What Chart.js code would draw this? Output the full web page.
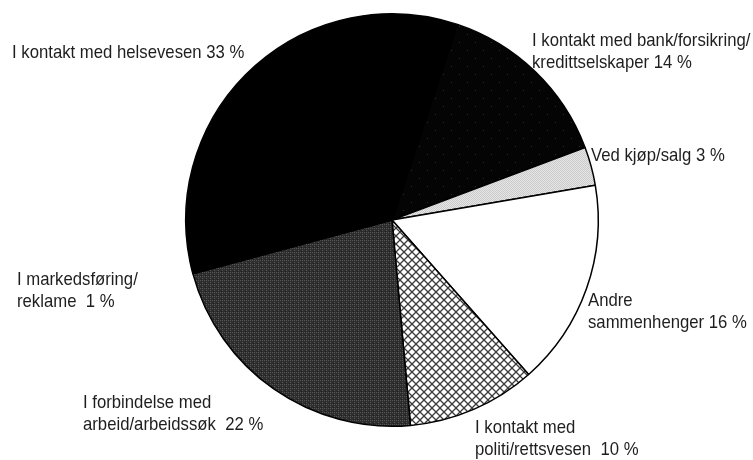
<!DOCTYPE html>
<html>
<head>
<meta charset="utf-8">
<script src="https://cdn.jsdelivr.net/npm/chart.js@4"></script>
<style>
  html, body { margin: 0; padding: 0; background: #fff; }
  #wrap { width: 753px; height: 460px; }
</style>
</head>
<body>
<div id="wrap"><canvas id="myChart" width="753" height="460"></canvas></div>
<script>
// categories (clockwise from the top), lines split with \n
const categories = [
    'I kontakt med bank/forsikring/\nkredittselskaper',
    'Ved kjøp/salg',
    'Andre\nsammenhenger',
    'I kontakt med\npoliti/rettsvesen ',
    'I forbindelse med\narbeid/arbeidssøk ',
    'I markedsføring/\nreklame ',
    'I kontakt med helsevesen'
];
const values = [14, 3, 16, 10, 22, 1, 33]; // per cent

// label anchors: left x and baseline of first line
const labelPos = [
    [532, 46], [591, 161], [588, 306], [475, 433], [83, 408], [17, 285], [12, 58]
];

function makePattern(size, draw) {
    const c = document.createElement('canvas');
    c.width = size; c.height = size;
    const g = c.getContext('2d');
    draw(g, size);
    return document.getElementById('myChart').getContext('2d').createPattern(c, 'repeat');
}

// near black with a few specks
const bankFill = makePattern(16, (g, s) => {
    g.fillStyle = '#040404'; g.fillRect(0, 0, s, s);
    g.fillStyle = '#2c2c2c';
    g.fillRect(3, 2, 1, 1); g.fillRect(11, 10, 1, 1);
});
// light gray stipple
const salgFill = makePattern(2, (g, s) => {
    g.fillStyle = '#e6e6e6'; g.fillRect(0, 0, s, s);
    g.fillStyle = '#cacaca'; g.fillRect(0, 0, 1, 1); g.fillRect(1, 1, 1, 1);
});
// cross hatch
const politiFill = makePattern(8, (g, s) => {
    g.fillStyle = '#fff'; g.fillRect(0, 0, s, s);
    g.strokeStyle = '#3a3a3a'; g.lineWidth = 1.3;
    g.beginPath();
    g.moveTo(-1, -1); g.lineTo(s + 1, s + 1);
    g.moveTo(-1, s + 1); g.lineTo(s + 1, -1);
    g.stroke();
});
// dark gray stipple
const arbeidFill = makePattern(4, (g, s) => {
    g.fillStyle = '#2e2e2e'; g.fillRect(0, 0, s, s);
    g.fillStyle = '#565656';
    g.fillRect(0, 0, 1, 1); g.fillRect(2, 2, 1, 1); g.fillRect(2, 0, 1, 1);
    g.fillStyle = '#1c1c1c'; g.fillRect(1, 3, 1, 1);
});

const fills = [bankFill, salgFill, '#ffffff', politiFill, arbeidFill, '#000000', '#000000'];

const textFont = '19px "Liberation Sans", Arial, sans-serif';
const squeeze = 0.88; // the original lettering is condensed

const labelPlugin = {
    id: 'sliceLabels',
    afterDraw(chart) {
        const ctx = chart.ctx;
        categories.forEach((cat, i) => {
            const lines = (cat + ' ' + values[i] + ' %').split('\n');
            const [x, y] = labelPos[i];
            lines.forEach((ln, k) => {
                ctx.save();
                ctx.font = textFont;
                ctx.fillStyle = '#1e1e1e';
                ctx.textBaseline = 'alphabetic';
                ctx.translate(x, y + k * 22);
                ctx.scale(squeeze, 1);
                ctx.fillText(ln, 0, 0);
                ctx.restore();
            });
        });
    }
};

const ctx = document.getElementById('myChart').getContext('2d');
const chart = new Chart(ctx, {
    type: 'pie',
    data: {
        labels: categories,
        datasets: [{
            data: values,
            backgroundColor: fills,
            borderColor: '#000',
            borderWidth: 1.5,
            hoverOffset: 0
        }]
    },
    options: {
        responsive: false,
        animation: false,
        rotation: 18.5,
        layout: { padding: { left: 31, right: 0, top: 13, bottom: 33 } },
        plugins: {
            legend: { display: false },
            tooltip: { enabled: false }
        }
    },
    plugins: [labelPlugin]
});
</script>
</body>
</html>
